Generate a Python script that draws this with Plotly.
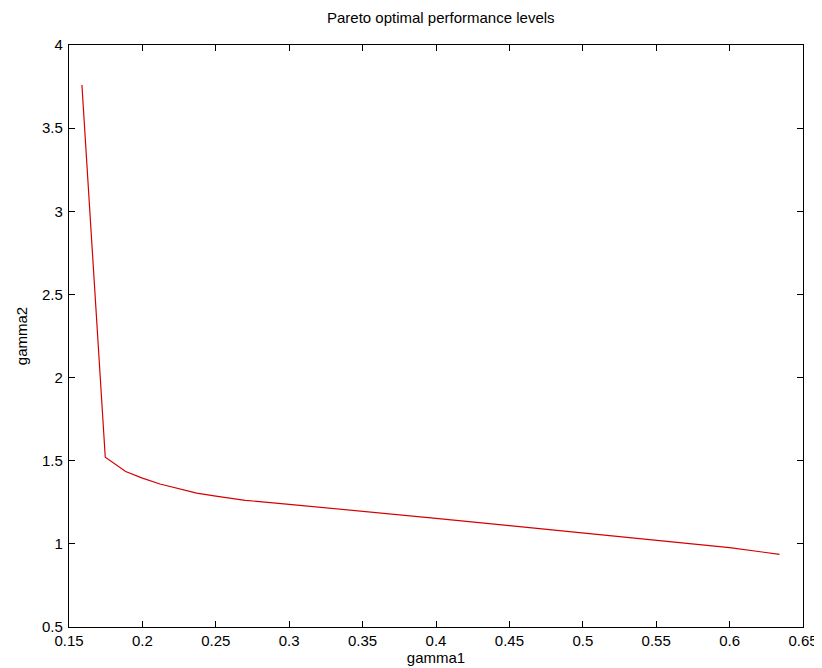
import plotly.graph_objects as go

gamma1 = [0.1588, 0.1747, 0.1886, 0.200, 0.212, 0.225, 0.237, 0.250, 0.270,
          0.300, 0.350, 0.400, 0.450, 0.500, 0.550, 0.600, 0.634]
gamma2 = [3.759, 1.521, 1.435, 1.395, 1.360, 1.330, 1.305, 1.287, 1.262,
          1.238, 1.197, 1.153, 1.110, 1.066, 1.022, 0.977, 0.937]

FONT = "Liberation Sans"

fig = go.Figure()
fig.add_trace(go.Scatter(x=gamma1, y=gamma2, mode="lines",
                         line=dict(color="#d40000", width=1.2),
                         showlegend=False))

axis_common = dict(showline=True, linecolor="black", linewidth=1.3,
                   mirror="ticks", ticks="inside", ticklen=6,
                   tickcolor="black", showgrid=False, zeroline=False,
                   tickfont=dict(family=FONT, size=15, color="black"))

fig.update_layout(
    width=822, height=668,
    margin=dict(l=61, r=19, t=37, b=45),
    paper_bgcolor="white", plot_bgcolor="white",
    title=dict(text="Pareto optimal performance levels", x=0.5265,
               xanchor="center", y=1, yanchor="top", pad=dict(t=4),
               font=dict(family=FONT, size=15, color="black")),
    xaxis=dict(range=[0.15, 0.65], tick0=0.15, dtick=0.05,
               title=dict(text="gamma1", standoff=4,
                          font=dict(family=FONT, size=15, color="black")),
               **axis_common),
    yaxis=dict(range=[0.5, 4], tick0=0.5, dtick=0.5, ticklabelstandoff=2,
               title=dict(text="gamma2", standoff=10,
                          font=dict(family=FONT, size=15, color="black")),
               **axis_common),
)

fig.write_html("out.html")
